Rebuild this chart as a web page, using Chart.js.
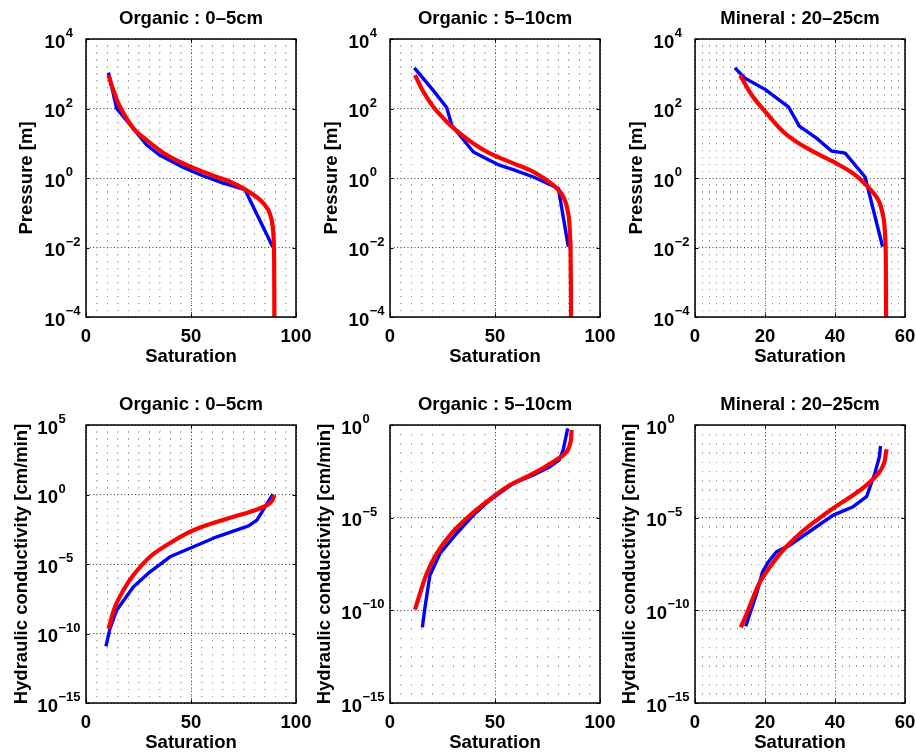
<!DOCTYPE html>
<html lang="en">
<head>
<meta charset="UTF-8">
<title>Retention and conductivity curves</title>
<style>
  body { margin: 0; background: #fff; }
  #page { position: relative; width: 916px; height: 752px; background: #fff; overflow: hidden; }
  #page canvas { position: absolute; }
</style>
<script src="https://cdn.jsdelivr.net/npm/chart.js"></script>
</head>
<body>
<div id="page">
  <canvas id="c1" width="320" height="376" style="left:0px;top:0px"></canvas>
  <canvas id="c2" width="320" height="376" style="left:305px;top:0px"></canvas>
  <canvas id="c3" width="306" height="376" style="left:610px;top:0px"></canvas>
  <canvas id="c4" width="320" height="376" style="left:0px;top:376px"></canvas>
  <canvas id="c5" width="320" height="376" style="left:305px;top:376px"></canvas>
  <canvas id="c6" width="306" height="376" style="left:610px;top:376px"></canvas>
</div>

<script>
// ---- data ----
const titles = ['Organic : 0\u20135cm', 'Organic : 5\u201310cm', 'Mineral : 20\u201325cm'];
const satTicks100 = [0, 50, 100];
const satTicks60 = [0, 20, 40, 60];
const presTicks = [1e-4, 1e-2, 1, 1e2, 1e4];
const condTicksWide = [1e-15, 1e-10, 1e-5, 1, 1e5];
const condTicks = [1e-15, 1e-10, 1e-5, 1];

// water retention, measured (blue) and fitted (red)
const satObsA = [10.7, 14.6, 28.9, 35, 45, 55, 65, 75.7, 88.9];
const presObsA = [1070, 100, 8.9, 4.6, 2.2, 1.2, 0.72, 0.46, 0.0105];
const satFitA = [10.7, 13, 16.2, 22.6, 28.9, 38.5, 50, 62.3, 68.6, 75.7, 82.9, 86.8, 88.4, 89.2, 89.5, 89.6, 89.7];
const presFitA = [912, 339, 112, 26.9, 12.3, 4.57, 2.09, 1.07, 0.78, 0.47, 0.234, 0.12, 0.062, 0.026, 0.0105, 0.004, 0.0001];

const satObsB = [11.6, 19.8, 27, 29.4, 39.7, 47.6, 52.4, 58.7, 68.3, 80.2, 84.9];
const presObsB = [1480, 380, 107, 33, 5.6, 3.2, 2.3, 1.74, 1.07, 0.5, 0.0105];
const satFitB = [11.9, 15.9, 20.6, 27, 33.3, 39.7, 47.6, 58.7, 68.3, 77.8, 82.5, 84.9, 85.7, 86, 86.2];
const presFitB = [912, 302, 112, 41.7, 19.1, 9.8, 5.1, 2.63, 1.51, 0.62, 0.29, 0.095, 0.025, 0.0066, 0.0001];

const satObsC = [11.4, 14.3, 20, 26.7, 29.8, 34.8, 39, 42.9, 48.6, 53.6];
const presObsC = [1480, 740, 355, 112, 31, 13.8, 6.0, 5.2, 1.07, 0.0105];
const satFitC = [12.9, 16.2, 20.5, 25.2, 29.5, 34.8, 39.5, 45.2, 49, 52.4, 53.8, 54.3, 54.5, 54.6];
const presFitC = [912, 245, 72, 21.4, 10.2, 5.1, 2.95, 1.35, 0.62, 0.23, 0.076, 0.025, 0.0066, 0.0001];

// hydraulic conductivity, measured (blue) and fitted (red)
const satKObsA = [9.5, 11.4, 14.6, 22.6, 30.5, 40, 51.2, 62.3, 77.4, 81.4, 89];
const condObsA = [1.2e-11, 2.2e-10, 4.7e-9, 2.3e-7, 2.75e-6, 3.3e-5, 1.74e-4, 9.1e-4, 5.6e-3, 1.45e-2, 1.07];
const satKFitA = [10.7, 13.8, 17.8, 22.6, 30.5, 38.5, 48, 57.6, 70.3, 79.8, 86.2, 88.6, 89.7];
const condFitA = [2.2e-10, 8.1e-9, 1.3e-7, 1.6e-6, 3.3e-5, 2.3e-4, 1.6e-3, 6.3e-3, 2.5e-2, 6.8e-2, 0.17, 0.35, 0.91];

const satKObsB = [15.4, 16.7, 19, 23.8, 31.7, 39.7, 47.6, 58.7, 68.3, 76.2, 80.6, 82.5, 84.6];
const condObsB = [1.2e-11, 1.55e-10, 7.9e-9, 1.17e-7, 1.4e-6, 1.38e-5, 8.9e-5, 7.1e-4, 2.0e-3, 5.6e-3, 1.3e-2, 4.5e-2, 0.66];
const satKFitB = [11.9, 14.3, 17.5, 22.2, 28.6, 36.5, 46, 57.1, 68.3, 77.8, 84.1, 86, 86.5];
const condFitB = [1.1e-10, 8.1e-10, 9.8e-9, 1.17e-7, 1.15e-6, 9.1e-6, 7.2e-5, 5.75e-4, 2.45e-3, 1.05e-2, 3.6e-2, 0.126, 0.54];

const satKObsC = [14.5, 15.7, 17.6, 19.3, 21, 23.3, 27.1, 31.9, 39.5, 45.2, 49, 51.4, 52.7, 53];
const condObsC = [1.4e-11, 6.8e-11, 8.1e-10, 1.2e-8, 4.2e-8, 1.45e-7, 3.3e-7, 1.4e-6, 1.38e-5, 3.9e-5, 1.35e-4, 2.5e-3, 2.0e-2, 7.4e-2];
const satKFitC = [13.1, 14.8, 16.7, 18.6, 21.4, 25.2, 30, 34.8, 39.5, 45.2, 49, 52.4, 54, 54.6, 54.8];
const condFitC = [1.2e-11, 6.8e-11, 5.4e-10, 3.5e-9, 2.2e-8, 1.8e-7, 1.4e-6, 7.4e-6, 3.2e-5, 1.66e-4, 5.75e-4, 2.45e-3, 8.5e-3, 3.6e-2, 4.9e-2];

// ---- drawing ----
const FONT = '"Liberation Sans", Arial, Helvetica, sans-serif';
const SUB = 10; // grid subdivisions between major ticks

function pts(xs, ys) {
  return xs.map((v, i) => ({ x: v, y: ys[i] }));
}

function linMinor(majors) {
  const out = [];
  for (let i = 0; i < majors.length - 1; i++) {
    for (let k = 0; k < SUB; k++) out.push(majors[i] + k * (majors[i + 1] - majors[i]) / SUB);
  }
  out.push(majors[majors.length - 1]);
  return out;
}

function logMinor(majors) {
  const out = [];
  for (let i = 0; i < majors.length - 1; i++) {
    const e0 = Math.log10(majors[i]), e1 = Math.log10(majors[i + 1]);
    for (let k = 0; k < SUB; k++) out.push(Math.pow(10, e0 + k * (e1 - e0) / SUB));
  }
  out.push(majors[majors.length - 1]);
  return out;
}

function isMajor(v, majors, log) {
  return majors.some(m => log ? Math.abs(Math.log10(v) - Math.log10(m)) < 1e-6 : Math.abs(v - m) < 1e-9);
}

// box, inward ticks and all text in MATLAB style
const matlabAxes = {
  id: 'matlabAxes',
  afterDraw(chart, args, o) {
    const { ctx, chartArea: a } = chart;
    const x = chart.scales.x, y = chart.scales.y;
    ctx.save();

    ctx.strokeStyle = '#000';
    ctx.lineWidth = 1;
    ctx.beginPath();
    o.xTicks.forEach(v => {
      const px = Math.round(x.getPixelForValue(v)) + 0.5;
      ctx.moveTo(px, a.bottom); ctx.lineTo(px, a.bottom - 3.5);
      ctx.moveTo(px, a.top); ctx.lineTo(px, a.top + 3.5);
    });
    o.yTicks.forEach(v => {
      const py = Math.round(y.getPixelForValue(v)) + 0.5;
      ctx.moveTo(a.left, py); ctx.lineTo(a.left + 3.5, py);
      ctx.moveTo(a.right, py); ctx.lineTo(a.right - 3.5, py);
    });
    ctx.stroke();

    ctx.lineWidth = 1.5;
    ctx.strokeRect(a.left, a.top, a.right - a.left, a.bottom - a.top);

    const base = 'bold 18.5px ' + FONT;
    const sup = 'bold 13px ' + FONT;
    const cap = 6.6;
    ctx.fillStyle = '#000';
    ctx.font = base;
    ctx.textBaseline = 'alphabetic';
    ctx.textAlign = 'center';
    const cx = (a.left + a.right) / 2;

    o.xTicks.forEach(v => ctx.fillText(String(v), x.getPixelForValue(v), a.bottom + 18.5 + cap));
    ctx.fillText('Saturation', cx, a.bottom + 38.5 + cap);
    ctx.fillText(o.title, cx, a.top - 21.5 + cap);

    ctx.save();
    ctx.translate(a.left - o.yLabelGap, (a.top + a.bottom) / 2);
    ctx.rotate(-Math.PI / 2);
    ctx.fillText(o.yLabel, 0, 0);
    ctx.restore();

    const exps = o.yTicks.map(v => {
      const e = Math.round(Math.log10(v));
      return e < 0 ? '\u2212' + (-e) : String(e);
    });
    ctx.font = sup;
    const maxW = Math.max(...exps.map(s => ctx.measureText(s).width));
    const baseRight = a.left - 6 - maxW;
    o.yTicks.forEach((v, i) => {
      const py = y.getPixelForValue(v);
      ctx.font = base; ctx.textAlign = 'right';
      ctx.fillText('10', baseRight, py + 2 + cap);
      ctx.font = sup; ctx.textAlign = 'left';
      ctx.fillText(exps[i], baseRight + 0.5, py - 2);
    });
    ctx.restore();
  }
};

const panels = [
  { id: 'c1', title: titles[0], xTicks: satTicks100, yTicks: presTicks, obs: pts(satObsA, presObsA), fit: pts(satFitA, presFitA), yLabel: 'Pressure [m]', pad: { left: 86, right: 24, top: 39, bottom: 59 }, gap: 54.5 },
  { id: 'c2', title: titles[1], xTicks: satTicks100, yTicks: presTicks, obs: pts(satObsB, presObsB), fit: pts(satFitB, presFitB), yLabel: 'Pressure [m]', pad: { left: 85, right: 25, top: 39, bottom: 59 }, gap: 53.5 },
  { id: 'c3', title: titles[2], xTicks: satTicks60, yTicks: presTicks, obs: pts(satObsC, presObsC), fit: pts(satFitC, presFitC), yLabel: 'Pressure [m]', pad: { left: 85, right: 11, top: 39, bottom: 59 }, gap: 53.5 },
  { id: 'c4', title: titles[0], xTicks: satTicks100, yTicks: condTicksWide, obs: pts(satKObsA, condObsA), fit: pts(satKFitA, condFitA), yLabel: 'Hydraulic conductivity [cm/min]', pad: { left: 86, right: 24, top: 49, bottom: 49 }, gap: 59.5 },
  { id: 'c5', title: titles[1], xTicks: satTicks100, yTicks: condTicks, obs: pts(satKObsB, condObsB), fit: pts(satKFitB, condFitB), yLabel: 'Hydraulic conductivity [cm/min]', pad: { left: 85, right: 25, top: 49, bottom: 49 }, gap: 60.5 },
  { id: 'c6', title: titles[2], xTicks: satTicks60, yTicks: condTicks, obs: pts(satKObsC, condObsC), fit: pts(satKFitC, condFitC), yLabel: 'Hydraulic conductivity [cm/min]', pad: { left: 85, right: 11, top: 49, bottom: 49 }, gap: 60.5 }
];

panels.forEach(p => {
  const xT = p.xTicks, yT = p.yTicks;
  const xPitch = c => c.chart.chartArea.width / ((xT.length - 1) * SUB);
  const yPitch = c => c.chart.chartArea.height / ((yT.length - 1) * SUB);

  new Chart(document.getElementById(p.id), {
    type: 'line',
    data: {
      datasets: [
        { data: p.fit, borderColor: '#ff0000', borderWidth: 4.2, tension: 0.35, order: 1 },
        { data: p.obs, borderColor: '#0000ff', borderWidth: 3.4, tension: 0, order: 2 }
      ]
    },
    options: {
      responsive: false,
      animation: false,
      events: [],
      layout: { padding: p.pad },
      elements: { point: { radius: 0 }, line: { borderCapStyle: 'butt', borderJoinStyle: 'round' } },
      plugins: {
        legend: { display: false },
        tooltip: { enabled: false },
        title: { display: false },
        matlabAxes: { title: p.title, xTicks: xT, yTicks: yT, yLabel: p.yLabel, yLabelGap: p.gap }
      },
      scales: {
        x: {
          type: 'linear',
          min: xT[0],
          max: xT[xT.length - 1],
          afterBuildTicks: ax => { ax.ticks = linMinor(xT).map(v => ({ value: v })); },
          afterFit: ax => { ax.height = 0; ax.paddingLeft = 0; ax.paddingRight = 0; },
          ticks: { display: false },
          grid: {
            drawTicks: false,
            lineWidth: 1,
            color: c => isMajor(c.tick.value, xT, false) ? '#3a3a3a' : '#9c9c9c'
          },
          border: {
            display: false,
            dash: c => isMajor(c.tick.value, xT, false) ? [1, 2.5] : [1, Math.max(1, yPitch(c) - 1)]
          }
        },
        y: {
          type: 'logarithmic',
          min: yT[0],
          max: yT[yT.length - 1],
          afterBuildTicks: ax => { ax.ticks = logMinor(yT).map(v => ({ value: v })); },
          afterFit: ax => { ax.width = 0; ax.paddingTop = 0; ax.paddingBottom = 0; },
          ticks: { display: false },
          grid: {
            drawTicks: false,
            lineWidth: 1,
            color: c => isMajor(c.tick.value, yT, true) ? '#3a3a3a' : '#9c9c9c'
          },
          border: {
            display: false,
            dash: c => isMajor(c.tick.value, yT, true) ? [1, 2.5] : [1, Math.max(1, xPitch(c) - 1)]
          }
        }
      }
    },
    plugins: [matlabAxes]
  });
});
</script>
</body>
</html>
